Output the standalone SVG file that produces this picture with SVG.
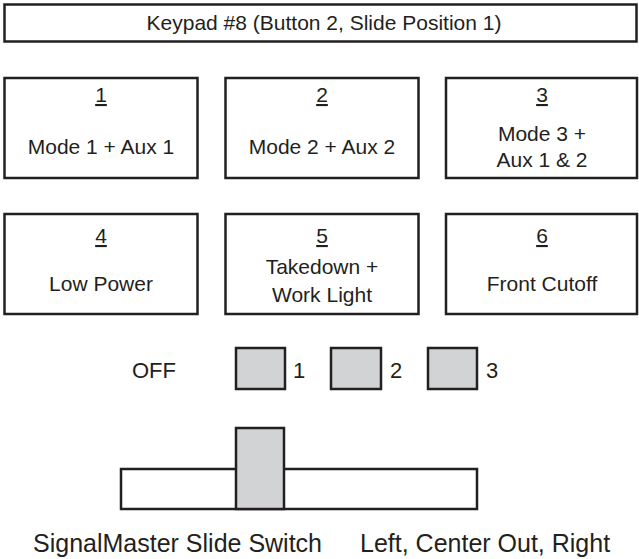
<svg xmlns="http://www.w3.org/2000/svg" width="639" height="559" viewBox="0 0 639 559">
<style>
.box{fill:#fff;stroke:#231f20;stroke-width:2.5}
.sw{fill:#d1d3d4;stroke:#231f20;stroke-width:2.5}
text{font-family:"Liberation Sans",Arial,sans-serif;fill:#231f20;font-size:21px}
.c{text-anchor:middle}
.u{text-decoration:underline}
.big{font-size:25px}
.pos{font-size:22px}
</style>
<rect width="639" height="559" fill="#fff"/>
<g id="header">
<rect class="box" x="4.5" y="4.5" width="632" height="37"/>
<text class="c" x="324" y="30">Keypad #8 (Button 2, Slide Position 1)</text>
</g>
<g id="btn1">
<rect class="box" x="4.5" y="78" width="193" height="100"/>
<text class="c u" x="101" y="102">1</text>
<text class="c" x="101" y="154">Mode 1 + Aux 1</text>
</g>
<g id="btn2">
<rect class="box" x="225.5" y="78" width="193" height="100"/>
<text class="c u" x="322" y="102">2</text>
<text class="c" x="322" y="154">Mode 2 + Aux 2</text>
</g>
<g id="btn3">
<rect class="box" x="446" y="78" width="191" height="100"/>
<text class="c u" x="542" y="102">3</text>
<text class="c" x="542" y="141">Mode 3 +</text>
<text class="c" x="542" y="167">Aux 1 &amp; 2</text>
</g>
<g id="btn4">
<rect class="box" x="4.5" y="214" width="193" height="100"/>
<text class="c u" x="101" y="243">4</text>
<text class="c" x="101" y="291">Low Power</text>
</g>
<g id="btn5">
<rect class="box" x="225.5" y="214" width="193" height="100"/>
<text class="c u" x="322" y="243">5</text>
<text class="c" x="322" y="274">Takedown +</text>
<text class="c" x="322" y="302">Work Light</text>
</g>
<g id="btn6">
<rect class="box" x="446" y="214" width="191" height="100"/>
<text class="c u" x="542" y="243">6</text>
<text class="c" x="542" y="291">Front Cutoff</text>
</g>
<g id="positions">
<text class="pos" x="132" y="378">OFF</text>
<rect class="sw" x="236" y="348" width="49" height="41"/>
<text class="pos" x="293" y="378">1</text>
<rect class="sw" x="331" y="348" width="50" height="41"/>
<text class="pos" x="390" y="378">2</text>
<rect class="sw" x="428" y="348" width="49" height="41"/>
<text class="pos" x="486" y="378">3</text>
</g>
<g id="slide">
<rect class="box" x="121" y="469" width="356" height="40"/>
<rect class="sw" x="236" y="428" width="48" height="81"/>
</g>
<g id="labels">
<text class="big" x="33" y="552">SignalMaster Slide Switch</text>
<text class="big" x="360" y="552">Left, Center Out, Right</text>
</g>
<g id="connectors"/>
</svg>
